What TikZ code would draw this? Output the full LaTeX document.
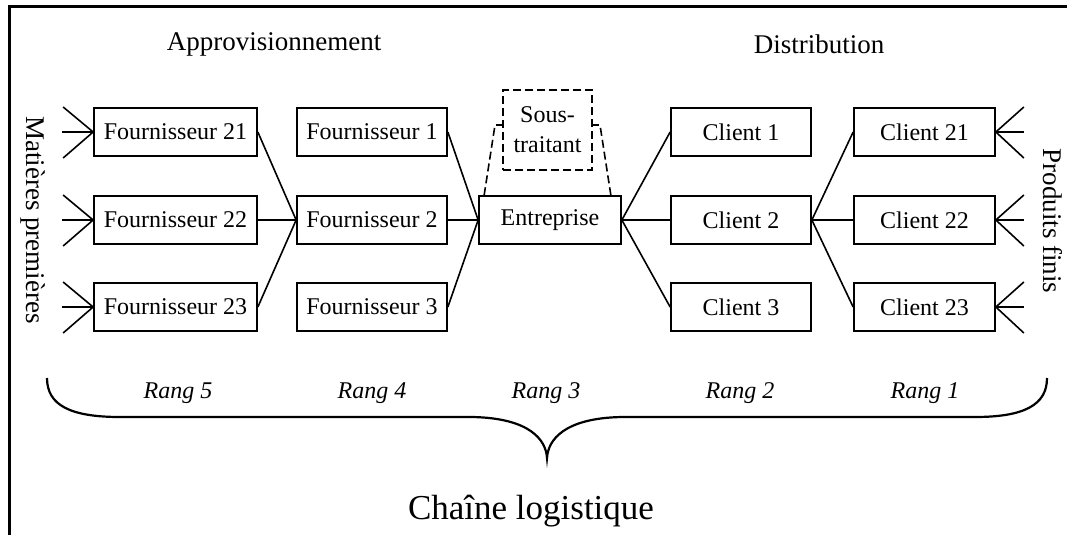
\documentclass[tikz,border=0pt]{standalone}
\usepackage{fontspec}
\setmainfont{Liberation Serif}
\begin{document}
\begin{tikzpicture}[x=1pt,y=-1pt,
  box/.style={draw, line width=1.7pt, inner sep=0pt, minimum height=48pt, font=\fontsize{24}{30}\selectfont},
  conn/.style={line width=1.6pt},
  dconn/.style={line width=1.6pt, dash pattern=on 8pt off 4pt},
  head/.style={font=\fontsize{27}{32}\selectfont},
  rang/.style={font=\fontsize{24}{28}\selectfont\itshape}]
\useasboundingbox (0,0) rectangle (1067,535);
\draw[line width=3pt] (9,535) -- (9,7) -- (1067,7);

% headings
\node[head] (appro) at (274,44) {Approvisionnement};
\node[head] (distr) at (819,44) {Distribution};
\node[head, rotate=-90] (mp) at (33,220) {Matières premières};
\node[head, rotate=-90] (pf) at (1053,221) {Produits finis};

% column 1
\node[box, minimum width=163pt] (f21) at (175.5,132) {Fournisseur 21};
\node[box, minimum width=163pt] (f22) at (175.5,220) {Fournisseur 22};
\node[box, minimum width=163pt] (f23) at (175.5,307) {Fournisseur 23};
% column 2
\node[box, minimum width=150pt] (f1) at (372,132) {Fournisseur 1};
\node[box, minimum width=150pt] (f2) at (372,220) {Fournisseur 2};
\node[box, minimum width=150pt] (f3) at (372,307) {Fournisseur 3};
% centre
\node[box, minimum width=142pt] (ent) at (550,220) {Entreprise};
\node[box, dash pattern=on 8pt off 4pt, minimum width=89pt, minimum height=80pt, align=center] (st) at (547.5,130) {Sous-\\traitant};
% clients
\node[box, minimum width=140pt] (c1) at (741,132) {Client 1};
\node[box, minimum width=140pt] (c2) at (741,220) {Client 2};
\node[box, minimum width=140pt] (c3) at (741,307) {Client 3};
\node[box, minimum width=141pt] (c21) at (924.5,132) {Client 21};
\node[box, minimum width=141pt] (c22) at (924.5,220) {Client 22};
\node[box, minimum width=141pt] (c23) at (924.5,307) {Client 23};

% connectors
\draw[conn] (f21.east) -- (f2.west);
\draw[conn] (f22.east) -- (f2.west);
\draw[conn] (f23.east) -- (f2.west);
\draw[conn] (f1.east) -- (ent.west);
\draw[conn] (f2.east) -- (ent.west);
\draw[conn] (f3.east) -- (ent.west);
\draw[conn] (ent.east) -- (c1.west);
\draw[conn] (ent.east) -- (c2.west);
\draw[conn] (ent.east) -- (c3.west);
\draw[conn] (c2.east) -- (c21.west);
\draw[conn] (c2.east) -- (c22.west);
\draw[conn] (c2.east) -- (c23.west);

% fans
\foreach \n in {f21,f22,f23}{
  \draw[conn] (\n.west) -- +(-30,-25);
  \draw[conn] (\n.west) -- +(-31,0);
  \draw[conn] (\n.west) -- +(-30,26);
}
\foreach \n in {c21,c22,c23}{
  \draw[conn] (\n.east) -- +(28,-25);
  \draw[conn] (\n.east) -- +(28,0);
  \draw[conn] (\n.east) -- +(28,26);
}

% sous-traitant dashed links
\coordinate (sl) at (495,125);
\coordinate (sr) at (600,125);
\draw[dconn] ([xshift=6pt]ent.north west) -- (sl) -- (st.west |- sl);
\draw[dconn] ([xshift=-11pt]ent.north east) -- (sr) -- (st.east |- sr);

% rangs
\node[rang] (r5) at (178,393) {Rang 5};
\node[rang] (r4) at (372,393) {Rang 4};
\node[rang] (r3) at (546,393) {Rang 3};
\node[rang] (r2) at (740,393) {Rang 2};
\node[rang] (r1) at (925,393) {Rang 1};

% brace
\draw[line width=2.2pt] (47,378) .. controls (47,405) and (70,417) .. (120,417)
  -- (472,417) .. controls (530,418) and (546,440) .. (547,458)
  .. controls (548,440) and (564,418) .. (622,417)
  -- (975,417) .. controls (1024,417) and (1047,405) .. (1047,378);

\node[font=\fontsize{35}{40}\selectfont] (cl) at (531,511) {Chaîne logistique};
\end{tikzpicture}
\end{document}
